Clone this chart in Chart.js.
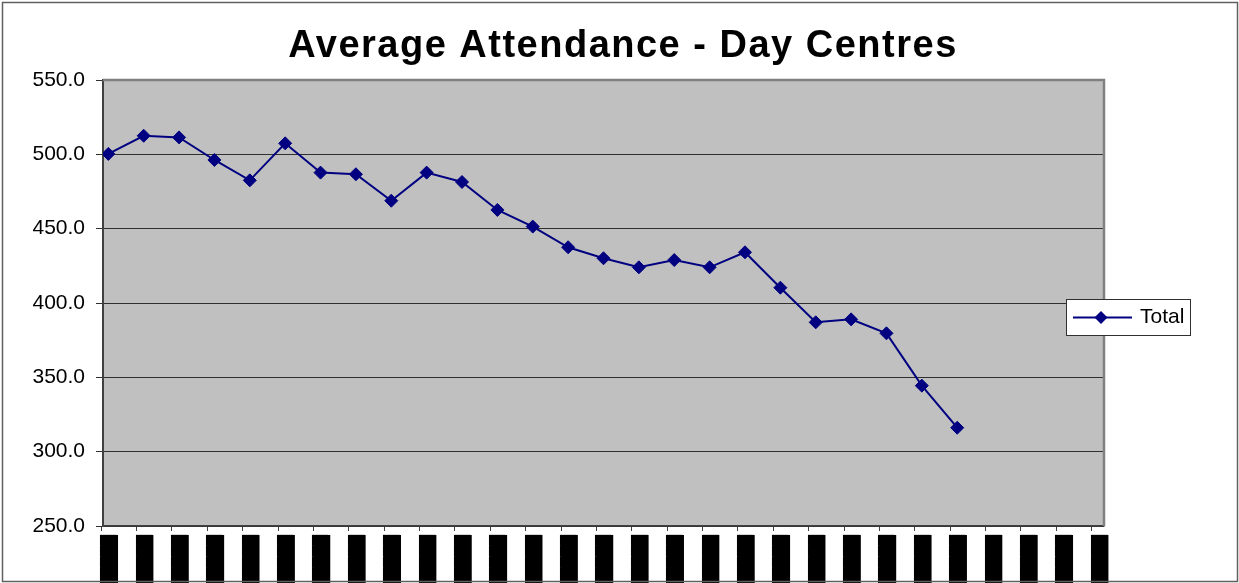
<!DOCTYPE html>
<html>
<head>
<meta charset="utf-8">
<script src="https://cdn.jsdelivr.net/npm/chart.js@4/dist/chart.umd.min.js"></script>
<style>
html,body{margin:0;padding:0;background:#fff;}
canvas{display:block;}
</style>
</head>
<body>
<canvas id="c" width="1239" height="583"></canvas>
<script>
// ---- data ----
const chartTitle = "Average Attendance - Day Centres";
const seriesName = "Total";
// category labels are unreadable (blacked out) in the source; shown as solid blocks
const categories = Array.from({length: 29}, () => "█████");
const totalValues = [
  500.3, 512.5, 511.4, 496.2, 482.5, 507.4, 487.7, 486.6, 468.8, 487.7,
  481.4, 462.6, 451.4, 437.5, 430.1, 424.0, 428.9, 424.0, 434.1, 410.3,
  387.0, 389.0, 379.6, 344.4, 316.1, null, null, null, null
];
const yTicks = [250, 300, 350, 400, 450, 500, 550];

const points = totalValues.map((v, i) => ({x: i, y: v}));

const decor = {
  id: 'decor',
  beforeDraw(chart) {
    const {ctx, chartArea: a} = chart;
    ctx.save();
    ctx.fillStyle = '#ffffff';
    ctx.fillRect(0, 0, chart.width, chart.height);
    ctx.fillStyle = '#c0c0c0';
    ctx.fillRect(a.left, a.top, a.right - a.left, a.bottom - a.top);
    ctx.restore();
  },
  beforeDatasetsDraw(chart) {
    const {ctx, chartArea: a} = chart;
    ctx.save();
    ctx.strokeStyle = '#808080';
    ctx.lineWidth = 2.5;
    ctx.beginPath();
    ctx.moveTo(a.left, a.top);
    ctx.lineTo(a.right, a.top);
    ctx.lineTo(a.right, a.bottom);
    ctx.stroke();
    ctx.restore();
  },
  afterDraw(chart) {
    const {ctx} = chart;
    ctx.save();
    // outer frame
    ctx.strokeStyle = '#606060';
    ctx.lineWidth = 1.5;
    ctx.strokeRect(2.5, 2.5, chart.width - 4, chart.height - 4);
    // title
    ctx.fillStyle = '#000';
    ctx.font = 'bold 38px "Liberation Sans", Arial, sans-serif';
    ctx.textAlign = 'center';
    ctx.textBaseline = 'alphabetic';
    try { ctx.letterSpacing = '1.5px'; } catch (e) {}
    ctx.fillText(chartTitle, 623, 57);
    try { ctx.letterSpacing = '0px'; } catch (e) {}
    // legend
    const ds = chart.data.datasets[0];
    ctx.fillStyle = '#fff';
    ctx.fillRect(1066, 299, 124, 36);
    ctx.strokeStyle = '#303030';
    ctx.lineWidth = 1;
    ctx.strokeRect(1066.5, 299.5, 124, 36);
    ctx.strokeStyle = ds.borderColor;
    ctx.lineWidth = 2;
    ctx.beginPath();
    ctx.moveTo(1073, 317.5);
    ctx.lineTo(1132, 317.5);
    ctx.stroke();
    ctx.fillStyle = ds.backgroundColor;
    ctx.beginPath();
    const cx = 1101, cy = 317.5, r = 6.5;
    ctx.moveTo(cx, cy - r); ctx.lineTo(cx + r, cy); ctx.lineTo(cx, cy + r); ctx.lineTo(cx - r, cy);
    ctx.closePath();
    ctx.fill();
    ctx.fillStyle = '#000';
    ctx.font = '21px "Liberation Sans", Arial, sans-serif';
    ctx.textAlign = 'left';
    ctx.fillText(ds.label, 1140, 323);
    ctx.restore();
  }
};

new Chart(document.getElementById('c'), {
  type: 'line',
  data: {
    datasets: [{
      label: seriesName,
      data: points,
      borderColor: '#000080',
      backgroundColor: '#000080',
      borderWidth: 2,
      pointStyle: 'rectRot',
      pointRadius: 6.5,
      pointBorderWidth: 1,
      pointBorderColor: '#000080',
      pointBackgroundColor: '#000080',
      tension: 0,
      spanGaps: false
    }]
  },
  options: {
    responsive: false,
    animation: false,
    devicePixelRatio: 1,
    layout: {padding: {top: 80, left: 0, right: 135, bottom: 0}},
    plugins: {
      legend: {display: false},
      title: {display: false},
      tooltip: {enabled: false}
    },
    scales: {
      x: {
        type: 'linear',
        min: -0.15,
        max: 28.15,
        afterFit(s) { s.height = 57; },
        afterBuildTicks(s) { s.ticks = categories.map((c, i) => ({value: i - 0.2})); },
        grid: {display: true, drawOnChartArea: false, drawTicks: true, tickLength: 5, color: '#404040', lineWidth: 1},
        border: {display: true, color: '#404040', width: 1.5},
        ticks: {
          autoSkip: false,
          maxRotation: 90,
          minRotation: 90,
          padding: 4,
          color: '#000',
          showLabelBackdrop: true,
          backdropColor: '#000',
          backdropPadding: 0,
          font: {family: '"DejaVu Sans"', size: 14},
          callback: (v, idx) => categories[idx]
        }
      },
      y: {
        min: 250,
        max: 550,
        afterFit(s) { s.width = 103; },
        afterBuildTicks(s) { s.ticks = yTicks.map(v => ({value: v})); },
        grid: {display: true, drawOnChartArea: true, drawTicks: true, tickLength: 7, color: '#303030', lineWidth: 1},
        border: {display: true, color: '#404040', width: 2},
        ticks: {
          padding: 11,
          color: '#000',
          font: {family: '"Liberation Sans", Arial, sans-serif', size: 21},
          callback: (v) => Number(v).toFixed(1)
        }
      }
    }
  },
  plugins: [decor]
});
</script>
</body>
</html>
